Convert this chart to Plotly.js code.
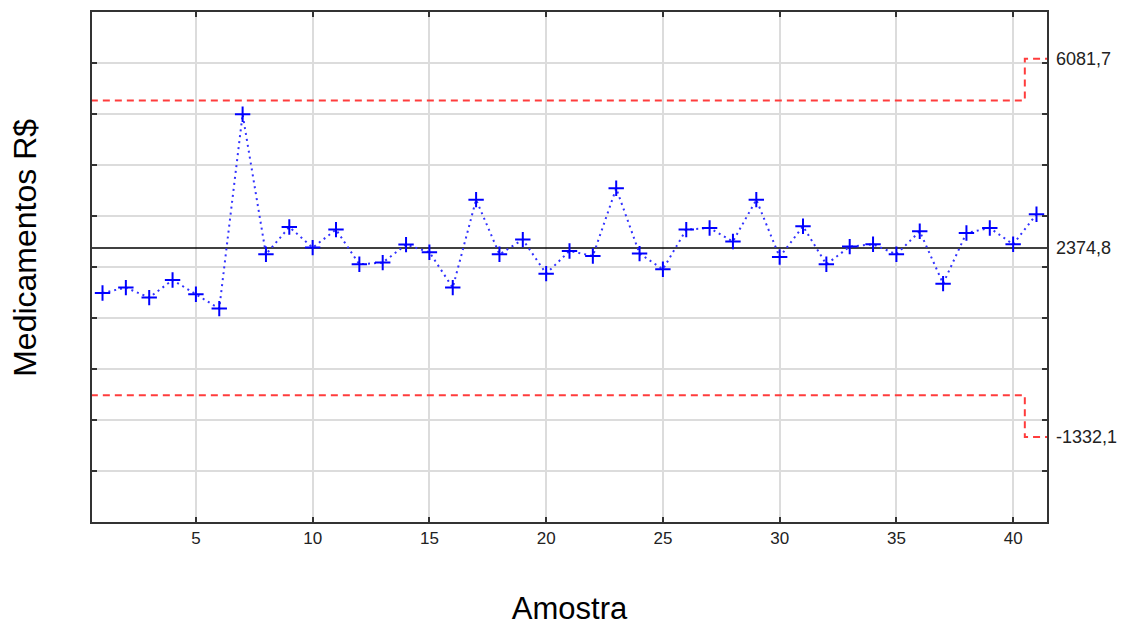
<!DOCTYPE html>
<html>
<head>
<meta charset="utf-8">
<script src="https://cdn.plot.ly/plotly-3.0.1.min.js"></script>
<style>
  html, body { margin: 0; padding: 0; background: #ffffff; }
  #chart { width: 1137px; height: 626px; }
</style>
</head>
<body>
<div id="chart"></div>
<script>
// ---- Data ----
const samples = [1,2,3,4,5,6,7,8,9,10,11,12,13,14,15,16,17,18,19,20,21,22,23,24,25,26,27,28,29,30,31,32,33,34,35,36,37,38,39,40,41];
const medicamentos = [1490, 1596, 1400, 1745, 1465, 1184, 4994, 2249, 2784, 2380,
                      2733, 2053, 2086, 2439, 2290, 1596, 3321, 2249, 2537, 1870,
                      2314, 2216, 3543, 2263, 1955, 2733, 2765, 2500, 3321, 2196,
                      2798, 2053, 2400, 2445, 2249, 2700, 1674, 2667, 2765, 2445, 3033];
const centerLine = 2374.8;
// control limits change at the last sample: boundaries between sample groups
const limitEdges = [0.5, 40.5, 41.5];
const uclLevels = [5262.8, 6081.7];
const lclLevels = [-513.2, -1332.1];
const rightTickValues = [6081.7, 2374.8, -1332.1];
const rightTickLabels = ["6081,7", "2374,8", "-1332,1"];
const xTickValues = [5, 10, 15, 20, 25, 30, 35, 40];
const yRange = [-3000, 7000];
const xRange = [0.55, 41.45];
const xTitle = 'Amostra';
const yTitle = 'Medicamentos R$';

// step line built from the edges and levels
function stepY(levels) { return levels.concat([levels[levels.length - 1]]); }

const redDash = { color: 'rgb(255,60,60)', width: 2, dash: '7px,5px', shape: 'hv' };

const traces = [
  {
    x: limitEdges, y: stepY(uclLevels),
    mode: 'lines', line: redDash, hoverinfo: 'skip', showlegend: false
  },
  {
    x: limitEdges, y: stepY(lclLevels),
    mode: 'lines', line: redDash, hoverinfo: 'skip', showlegend: false
  },
  {
    x: [limitEdges[0], limitEdges[limitEdges.length - 1]], y: [centerLine, centerLine],
    mode: 'lines', line: { color: '#000000', width: 1.5 }, hoverinfo: 'skip', showlegend: false
  },
  {
    x: samples, y: medicamentos,
    mode: 'lines+markers',
    line: { color: 'rgb(50,50,255)', width: 2, dash: '2px,4px' },
    marker: { symbol: 'cross-thin', size: 11, color: '#0000ff', line: { color: '#0000ff', width: 2 } },
    showlegend: false
  },
  {
    // invisible trace to activate the right-hand axis
    x: [samples[0]], y: [centerLine], yaxis: 'y2',
    mode: 'markers', marker: { opacity: 0 }, hoverinfo: 'skip', showlegend: false
  }
];

const layout = {
  width: 1137, height: 626,
  paper_bgcolor: '#ffffff', plot_bgcolor: '#ffffff',
  margin: { l: 92, r: 90, t: 12, b: 104 },
  font: { family: '"Liberation Sans", Arial, sans-serif', color: '#222' },
  showlegend: false,
  xaxis: {
    range: xRange,
    tickvals: xTickValues,
    ticks: 'inside', ticklen: 5, tickwidth: 2, tickcolor: '#333',
    showgrid: true, gridcolor: '#dcdcdc', gridwidth: 2,
    showline: true, linecolor: '#333', linewidth: 2, mirror: 'ticks',
    zeroline: false,
    tickfont: { size: 17, color: '#222' },
    title: { text: xTitle, font: { size: 31, color: '#000' }, standoff: 50 }
  },
  yaxis: {
    range: yRange,
    dtick: 1000, tick0: 0,
    ticks: 'inside', ticklen: 5, tickwidth: 2, tickcolor: '#333',
    showticklabels: false,
    showgrid: true, gridcolor: '#dcdcdc', gridwidth: 2,
    showline: true, linecolor: '#333', linewidth: 2, mirror: 'ticks',
    zeroline: false
  },
  yaxis2: {
    range: yRange,
    overlaying: 'y', side: 'right',
    tickvals: rightTickValues, ticktext: rightTickLabels,
    ticks: '', ticklabelstandoff: 8,
    tickfont: { size: 18, color: '#222' },
    showgrid: false, zeroline: false, showline: false
  },
  annotations: [
    {
      text: yTitle, textangle: -90,
      xref: 'paper', yref: 'paper',
      x: -0.0705, y: 0.537, xanchor: 'center', yanchor: 'middle',
      showarrow: false,
      font: { size: 32, color: '#000' }
    }
  ]
};

Plotly.newPlot('chart', traces, layout, { displayModeBar: false, staticPlot: true });
</script>
</body>
</html>
